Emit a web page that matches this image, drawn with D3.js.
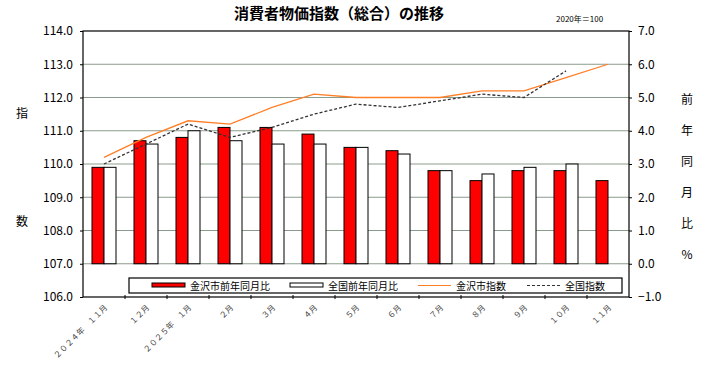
<!DOCTYPE html>
<html lang="ja">
<head>
<meta charset="UTF-8">
<title>消費者物価指数（総合）の推移</title>
<script src="https://d3js.org/d3.v7.min.js"></script>
<style>
  body { margin: 0; background: #fff; }
  svg { display: block; font-family: "Noto Sans CJK JP", sans-serif; }
</style>
</head>
<body>
<svg id="chart"></svg>
<script>
// data
const categories = ["２０２４年　１１月", "１２月", "２０２５年　１月", "２月", "３月", "４月", "５月",
                    "６月", "７月", "８月", "９月", "１０月", "１１月"];
const kanazawaYoY = [2.9, 3.7, 3.8, 4.1, 4.1, 3.9, 3.5, 3.4, 2.8, 2.5, 2.8, 2.8, 2.5];
const nationalYoY = [2.9, 3.6, 4.0, 3.7, 3.6, 3.6, 3.5, 3.3, 2.8, 2.7, 2.9, 3.0, null];
const kanazawaIdx = [110.2, 110.8, 111.3, 111.2, 111.7, 112.1, 112.0, 112.0, 112.0, 112.2, 112.2, 112.6, 113.0];
const nationalIdx = [110.0, 110.6, 111.2, 110.8, 111.1, 111.5, 111.8, 111.7, 111.9, 112.1, 112.0, 112.8, null];
const leftTicks = [106, 107, 108, 109, 110, 111, 112, 113, 114];
const rightTicks = [-1, 0, 1, 2, 3, 4, 5, 6, 7];

const W = 716, H = 368;
const plot = { left: 83, right: 629, top: 31, bottom: 297 };

const svg = d3.select("#chart").attr("width", W).attr("height", H);

const x = d3.scaleBand().domain(categories).range([plot.left, plot.right]);
const yL = d3.scaleLinear().domain([106, 114]).range([plot.bottom, plot.top]);
const yR = d3.scaleLinear().domain([-1, 7]).range([plot.bottom, plot.top]);
const barW = 12;

// title
svg.append("text").attr("x", 339).attr("y", 19).attr("text-anchor", "middle")
  .attr("font-size", 15).attr("font-weight", "bold").text("消費者物価指数（総合）の推移");
svg.append("text").attr("x", 556).attr("y", 22).attr("font-size", 8).text("2020年＝100");

// grid lines
svg.append("g").selectAll("line")
  .data(leftTicks.filter(d => d > 106 && d < 114))
  .join("line")
  .attr("x1", plot.left).attr("x2", plot.right)
  .attr("y1", d => yL(d)).attr("y2", d => yL(d))
  .attr("stroke", "#8c9c8c").attr("stroke-width", 1);

// bars
const bars = svg.append("g");
bars.selectAll("rect.kz")
  .data(categories.map((c, i) => ({ c, v: kanazawaYoY[i] })).filter(d => d.v != null))
  .join("rect")
  .attr("x", d => x(d.c) + x.bandwidth() / 2 - barW)
  .attr("y", d => yR(d.v)).attr("width", barW).attr("height", d => yR(0) - yR(d.v))
  .attr("fill", "#ff0000").attr("stroke", "#000").attr("stroke-width", 1);
bars.selectAll("rect.nt")
  .data(categories.map((c, i) => ({ c, v: nationalYoY[i] })).filter(d => d.v != null))
  .join("rect")
  .attr("x", d => x(d.c) + x.bandwidth() / 2)
  .attr("y", d => yR(d.v)).attr("width", barW).attr("height", d => yR(0) - yR(d.v))
  .attr("fill", "#fff").attr("stroke", "#000").attr("stroke-width", 1);

// lines
const line = d3.line()
  .defined(d => d.v != null)
  .x(d => x(d.c) + x.bandwidth() / 2)
  .y(d => yL(d.v));
svg.append("path")
  .datum(categories.map((c, i) => ({ c, v: kanazawaIdx[i] })))
  .attr("d", line).attr("fill", "none").attr("stroke", "#ff7f27").attr("stroke-width", 1.3);
svg.append("path")
  .datum(categories.map((c, i) => ({ c, v: nationalIdx[i] })))
  .attr("d", line).attr("fill", "none").attr("stroke", "#333").attr("stroke-width", 1.3)
  .attr("stroke-dasharray", "3,2");

// frame
svg.append("rect").attr("x", plot.left).attr("y", plot.top)
  .attr("width", plot.right - plot.left).attr("height", plot.bottom - plot.top)
  .attr("fill", "none").attr("stroke", "#000").attr("stroke-width", 1.2);

// axes
const axisL = svg.append("g").attr("transform", `translate(${plot.left},0)`)
  .call(d3.axisLeft(yL).tickValues(leftTicks).tickFormat(d3.format(".1f")).tickSize(3).tickPadding(7));
const axisR = svg.append("g").attr("transform", `translate(${plot.right},0)`)
  .call(d3.axisRight(yR).tickValues(rightTicks).tickFormat(d3.format(".1f")).tickSize(3).tickPadding(6));
[axisL, axisR].forEach(g => {
  g.select(".domain").remove();
  g.selectAll("text").attr("font-size", 12).attr("fill", "#000")
    .attr("font-family", "'Noto Sans CJK JP', sans-serif");
});

// x ticks at category boundaries
svg.append("g").selectAll("line")
  .data(categories.slice(1))
  .join("line")
  .attr("x1", d => x(d)).attr("x2", d => x(d))
  .attr("y1", plot.bottom - 2).attr("y2", plot.bottom + 2)
  .attr("stroke", "#000");

// x labels, rotated
svg.append("g").selectAll("text")
  .data(categories)
  .join("text")
  .attr("transform", d => `translate(${x(d) + x.bandwidth() / 2 + 2},${plot.bottom + 9}) rotate(-45)`)
  .attr("text-anchor", "end").attr("dy", "0.35em")
  .attr("font-size", 8).attr("fill", "#444")
  .text(d => d);

// axis titles
svg.append("text").attr("x", 22).attr("y", 118).attr("text-anchor", "middle").attr("font-size", 12).text("指");
svg.append("text").attr("x", 22).attr("y", 226).attr("text-anchor", "middle").attr("font-size", 12).text("数");
svg.append("g").selectAll("text")
  .data(["前", "年", "同", "月", "比", "%"])
  .join("text")
  .attr("x", 687).attr("y", (d, i) => 104 + i * 31)
  .attr("text-anchor", "middle").attr("font-size", 12).text(d => d);

// legend
const lg = svg.append("g");
lg.append("rect").attr("x", 129).attr("y", 278).attr("width", 493).attr("height", 15)
  .attr("fill", "#fff").attr("stroke", "#000").attr("stroke-width", 1.2);
const legendItems = [
  { label: "金沢市前年同月比", kind: "bar", fill: "#ff0000", x: 152 },
  { label: "全国前年同月比", kind: "bar", fill: "#fff", x: 290 },
  { label: "金沢市指数", kind: "line", stroke: "#ff7f27", x: 418 },
  { label: "全国指数", kind: "dash", stroke: "#333", x: 527 }
];
legendItems.forEach(it => {
  if (it.kind === "bar") {
    lg.append("rect").attr("x", it.x).attr("y", 283).attr("width", 33).attr("height", 4)
      .attr("fill", it.fill).attr("stroke", "#000").attr("stroke-width", 1);
  } else {
    lg.append("line").attr("x1", it.x).attr("x2", it.x + 33).attr("y1", 285.5).attr("y2", 285.5)
      .attr("stroke", it.stroke).attr("stroke-width", 1.2)
      .attr("stroke-dasharray", it.kind === "dash" ? "3,2" : null);
  }
  lg.append("text").attr("x", it.x + 38).attr("y", 289.5).attr("font-size", 10).text(it.label);
});
</script>
</body>
</html>
